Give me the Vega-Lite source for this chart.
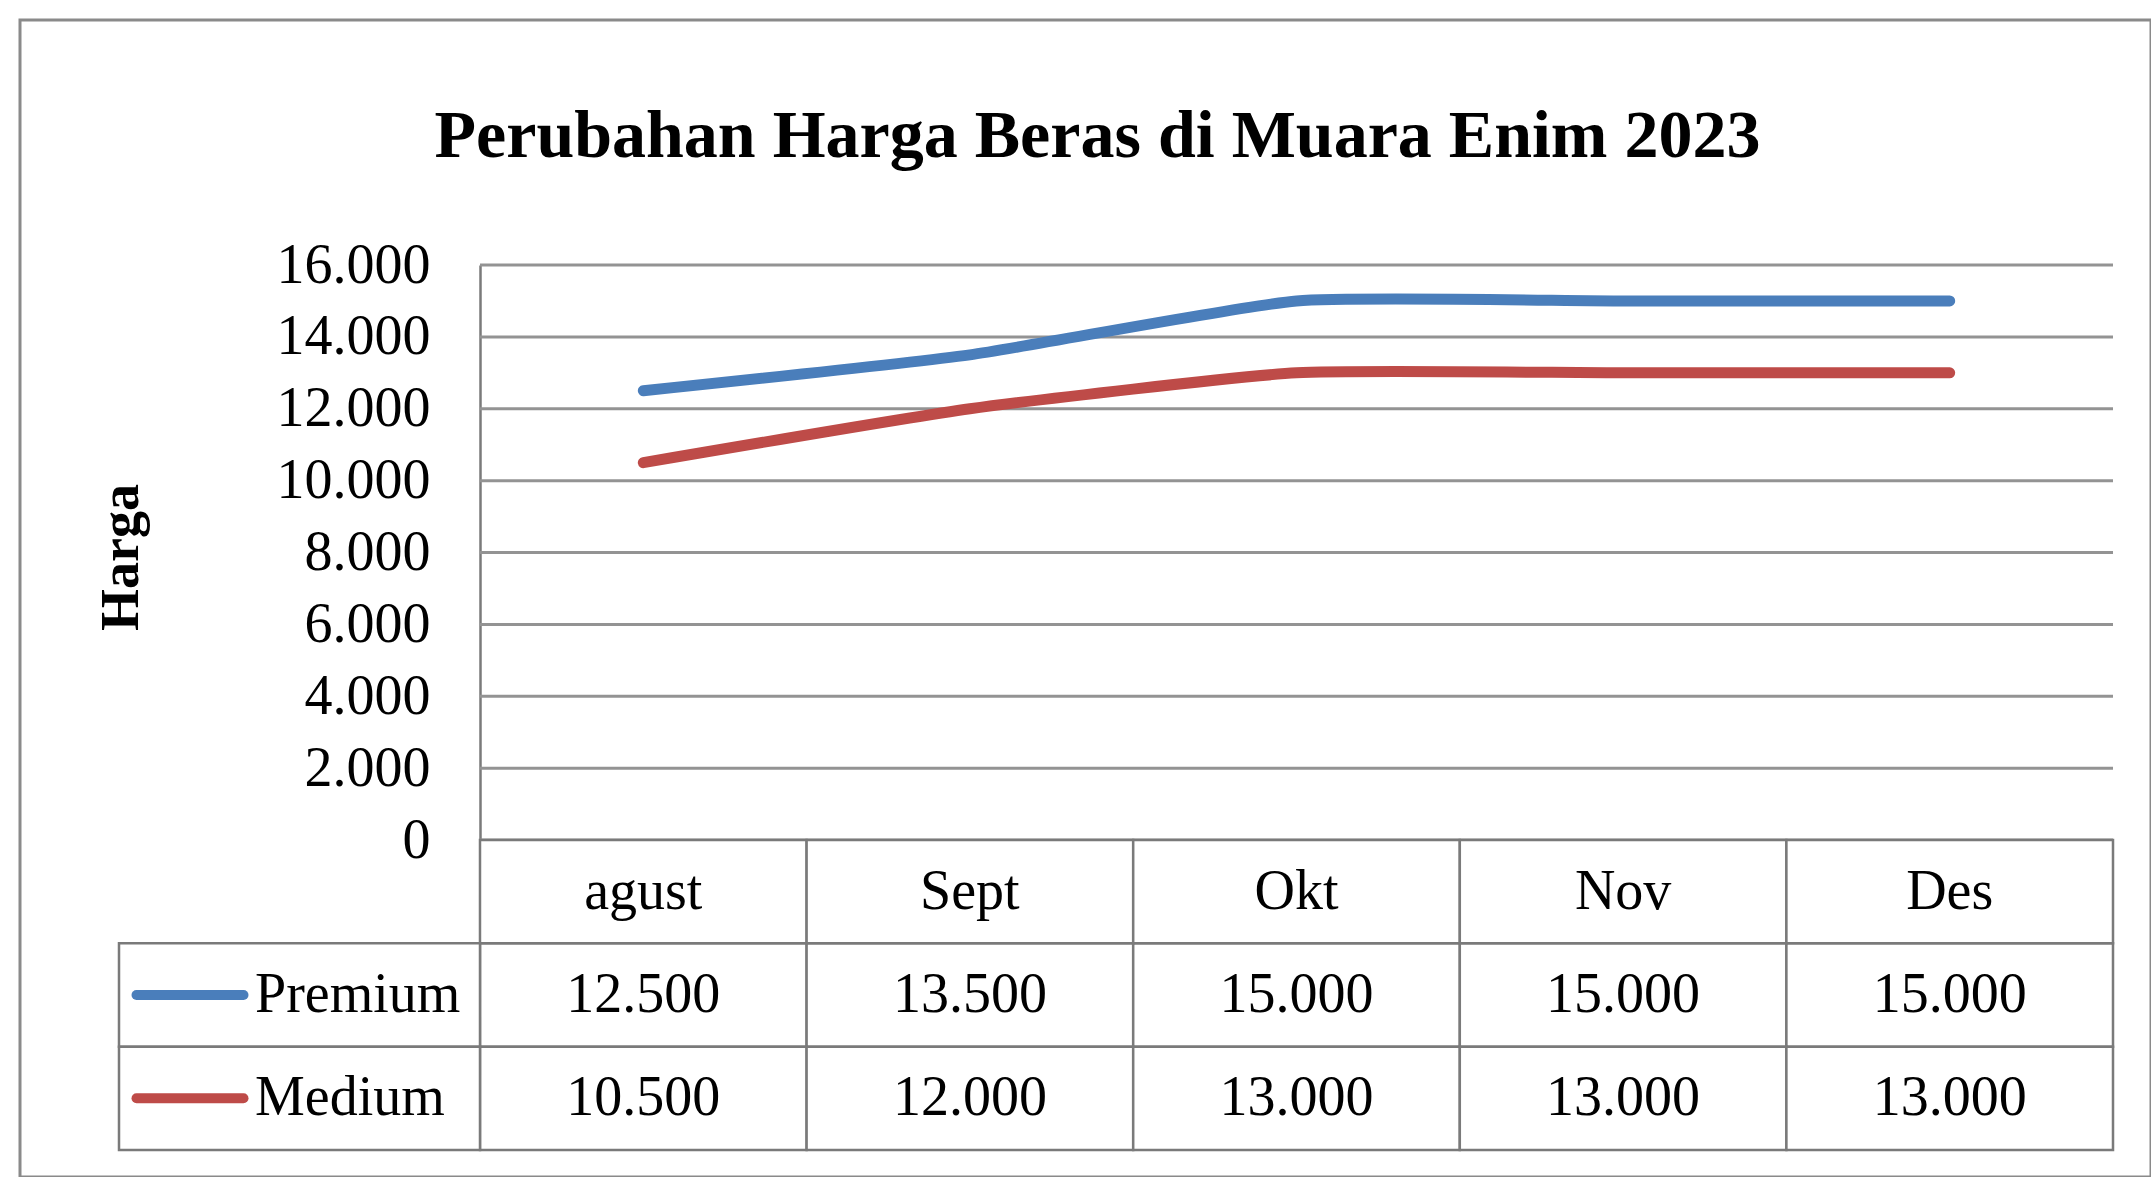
{
  "$schema": "https://vega.github.io/schema/vega-lite/v6.json",
  "width": 2131,
  "height": 1157,
  "autosize": {"type": "none"},
  "padding": {"left": 20, "top": 20, "right": 0, "bottom": 0},
  "background": "white",
  "config": {
    "view": {"stroke": "#8a8a8a", "strokeWidth": 3},
    "font": "Liberation Serif",
    "locale": {"number": {"decimal": ",", "thousands": ".", "grouping": [3], "currency": ["Rp", ""]}}
  },
  "title": {
    "text": "Perubahan Harga  Beras di Muara Enim 2023",
    "frame": "group",
    "anchor": "middle",
    "orient": "top",
    "offset": -135,
    "baseline": "alphabetic",
    "dx": 12,
    "dy": 70,
    "font": "Liberation Serif",
    "fontSize": 68,
    "fontWeight": "bold",
    "color": "#000000"
  },
  "datasets": {
    "harga": [
      {"month": "agust", "series": "Premium", "harga": 12500},
      {"month": "Sept", "series": "Premium", "harga": 13500},
      {"month": "Okt", "series": "Premium", "harga": 15000},
      {"month": "Nov", "series": "Premium", "harga": 15000},
      {"month": "Des", "series": "Premium", "harga": 15000},
      {"month": "agust", "series": "Medium", "harga": 10500},
      {"month": "Sept", "series": "Medium", "harga": 12000},
      {"month": "Okt", "series": "Medium", "harga": 13000},
      {"month": "Nov", "series": "Medium", "harga": 13000},
      {"month": "Des", "series": "Medium", "harga": 13000}
    ],
    "grid": [
      {"v": 0}, {"v": 2000}, {"v": 4000}, {"v": 6000}, {"v": 8000},
      {"v": 10000}, {"v": 12000}, {"v": 14000}, {"v": 16000}
    ]
  },
  "layer": [
    {
      "data": {"name": "grid"},
      "mark": {"type": "rule", "color": "#939393", "strokeWidth": 3},
      "encoding": {
        "y": {"field": "v", "type": "quantitative", "scale": {"domain": [0, 16000], "range": [820, 245], "nice": false}, "axis": null},
        "x": {"datum": 0, "type": "quantitative", "scale": {"domain": [0, 1], "range": [460, 2093], "nice": false, "zero": false}, "axis": null},
        "x2": {"datum": 1}
      }
    },
    {
      "data": {"name": "harga"},
      "mark": {"type": "rect", "fill": "white", "stroke": "#7a7a7a", "strokeWidth": 2.5},
      "encoding": {
        "x": {"field": "month", "type": "nominal", "scale": {"type": "band", "domain": ["agust", "Sept", "Okt", "Nov", "Des"], "range": [460, 2093], "padding": 0}, "axis": null},
        "y": {"field": "series", "type": "nominal", "scale": {"type": "band", "domain": ["hdr", "Premium", "Medium"], "range": [820, 1130], "padding": 0}, "axis": null}
      }
    },
    {
      "data": {"name": "harga"},
      "transform": [{"filter": "datum.series === 'Premium'"}],
      "mark": {"type": "rect", "fill": "white", "stroke": "#7a7a7a", "strokeWidth": 2.5},
      "encoding": {
        "x": {"field": "month", "type": "nominal", "scale": {"type": "band", "domain": ["agust", "Sept", "Okt", "Nov", "Des"], "range": [460, 2093], "padding": 0}, "axis": null},
        "y": {"datum": "hdr", "type": "nominal", "scale": {"type": "band", "domain": ["hdr", "Premium", "Medium"], "range": [820, 1130], "padding": 0}, "axis": null}
      }
    },
    {
      "data": {"name": "harga"},
      "transform": [{"filter": "datum.month === 'agust'"}],
      "mark": {"type": "rect", "fill": "white", "stroke": "#7a7a7a", "strokeWidth": 2.5},
      "encoding": {
        "x": {"datum": "L", "type": "nominal", "scale": {"type": "band", "domain": ["L"], "range": [99, 460], "padding": 0}, "axis": null},
        "y": {"field": "series", "type": "nominal", "scale": {"type": "band", "domain": ["hdr", "Premium", "Medium"], "range": [820, 1130], "padding": 0}, "axis": null}
      }
    },
    {
      "data": {"name": "harga"},
      "mark": {"type": "line", "interpolate": "cardinal", "tension": 0.5, "strokeWidth": 11, "strokeCap": "round", "strokeJoin": "round"},
      "encoding": {
        "x": {"field": "month", "type": "nominal", "scale": {"type": "point", "domain": ["agust", "Sept", "Okt", "Nov", "Des"], "range": [460, 2093], "padding": 0.5}, "axis": null},
        "y": {
          "field": "harga", "type": "quantitative",
          "scale": {"domain": [0, 16000], "range": [820, 245], "nice": false},
          "axis": {
            "offset": -460,
            "values": [0, 2000, 4000, 6000, 8000, 10000, 12000, 14000, 16000],
            "format": ",d",
            "grid": false,
            "ticks": false,
            "domain": true,
            "domainColor": "#7a7a7a",
            "domainWidth": 2.5,
            "labelFont": "Liberation Serif",
            "labelFontSize": 56,
            "labelColor": "#000000",
            "labelPadding": 50,
            "labelBaseline": "middle",
            "labelAlign": "right",
            "labelFlush": false,
            "labelOverlap": false,
            "title": "Harga",
            "titleFont": "Liberation Serif",
            "titleFontSize": 54,
            "titleFontWeight": "bold",
            "titleColor": "#000000",
            "titleAngle": 270,
            "titleX": -359,
            "titleY": 537,
            "titleAlign": "center",
            "titleBaseline": "middle"
          }
        },
        "color": {"field": "series", "type": "nominal", "scale": {"domain": ["Premium", "Medium"], "range": ["#4A7EBB", "#BE4B48"]}, "legend": null}
      }
    },
    {
      "data": {"name": "harga"},
      "transform": [{"filter": "datum.series === 'Premium'"}],
      "mark": {"type": "text", "font": "Liberation Serif", "fontSize": 56, "color": "#000000", "baseline": "middle", "align": "center"},
      "encoding": {
        "x": {"field": "month", "type": "nominal", "scale": {"type": "band", "domain": ["agust", "Sept", "Okt", "Nov", "Des"], "range": [460, 2093], "padding": 0}, "axis": null},
        "y": {"datum": "hdr", "type": "nominal", "scale": {"type": "band", "domain": ["hdr", "Premium", "Medium"], "range": [820, 1130], "padding": 0}, "axis": null},
        "text": {"field": "month", "type": "nominal"}
      }
    },
    {
      "data": {"name": "harga"},
      "mark": {"type": "text", "font": "Liberation Serif", "fontSize": 56, "color": "#000000", "baseline": "middle", "align": "center"},
      "encoding": {
        "x": {"field": "month", "type": "nominal", "scale": {"type": "band", "domain": ["agust", "Sept", "Okt", "Nov", "Des"], "range": [460, 2093], "padding": 0}, "axis": null},
        "y": {"field": "series", "type": "nominal", "scale": {"type": "band", "domain": ["hdr", "Premium", "Medium"], "range": [820, 1130], "padding": 0}, "axis": null},
        "text": {"field": "harga", "type": "quantitative", "format": ",d"}
      }
    },
    {
      "data": {"name": "harga"},
      "transform": [{"filter": "datum.month === 'agust'"}],
      "mark": {"type": "text", "font": "Liberation Serif", "fontSize": 56, "color": "#000000", "baseline": "middle", "align": "left"},
      "encoding": {
        "x": {"datum": "lab", "type": "nominal", "scale": {"type": "point", "domain": ["sym", "lab"], "range": [170, 235], "padding": 0}, "axis": null},
        "y": {"field": "series", "type": "nominal", "scale": {"type": "band", "domain": ["hdr", "Premium", "Medium"], "range": [820, 1130], "padding": 0}, "axis": null},
        "text": {"field": "series", "type": "nominal"}
      }
    },
    {
      "data": {"name": "harga"},
      "transform": [{"filter": "datum.month === 'agust'"}],
      "mark": {"type": "point", "shape": "stroke", "size": 11449, "filled": false, "strokeWidth": 10, "strokeCap": "round", "opacity": 1},
      "encoding": {
        "x": {"datum": "sym", "type": "nominal", "scale": {"type": "point", "domain": ["sym", "lab"], "range": [170, 235], "padding": 0}, "axis": null},
        "y": {"field": "series", "type": "nominal", "scale": {"type": "band", "domain": ["hdr", "Premium", "Medium"], "range": [820, 1130], "padding": 0}, "axis": null},
        "color": {"field": "series", "type": "nominal", "scale": {"domain": ["Premium", "Medium"], "range": ["#4A7EBB", "#BE4B48"]}, "legend": null}
      }
    }
  ],
  "resolve": {"scale": {"x": "independent", "y": "independent", "color": "independent"}}
}
